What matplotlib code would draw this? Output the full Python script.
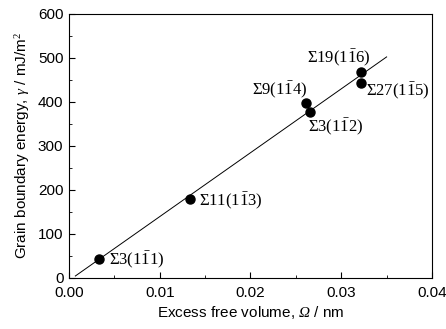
import numpy as np
from matplotlib import pyplot as plt
from matplotlib.ticker import MultipleLocator

plt.rcParams['font.family'] = ['Liberation Sans', 'DejaVu Sans']
plt.rcParams['mathtext.fontset'] = 'custom'
plt.rcParams['mathtext.rm'] = 'Liberation Serif'
plt.rcParams['mathtext.it'] = 'Liberation Serif:italic'
# bf slot used to get an italic capital Omega
plt.rcParams['mathtext.bf'] = 'Liberation Serif:italic'
plt.rcParams['mathtext.sf'] = 'Liberation Sans'

# excess free volume (nm) and grain boundary energy (mJ/m^2)
omega = [0.0033, 0.0133, 0.0261, 0.0266, 0.0322, 0.0322]
gamma = [43, 178, 398, 376, 467, 443]
labels = [r'$\Sigma3(1\bar{1}1)$', r'$\Sigma11(1\bar{1}3)$', r'$\Sigma9(1\bar{1}4)$',
          r'$\Sigma3(1\bar{1}2)$', r'$\Sigma19(1\bar{1}6)$', r'$\Sigma27(1\bar{1}5)$']
offsets = [(7.5, -1), (6.5, -1.5), (1, 8.5), (-1.5, -10.5), (-16, 10), (3.5, -6)]
aligns = ['left', 'left', 'right', 'left', 'center', 'left']

fig = plt.figure(figsize=(4.46, 3.29), dpi=100)
ax = fig.add_axes([0.1547, 0.156, 0.8139, 0.8015])

# linear fit through the points
k, b = np.polyfit(omega, gamma, 1)
xfit = np.array([0.0007, 0.035])
ax.plot(xfit, k * xfit + b, color='black', lw=0.7)

ax.plot(omega, gamma, 'o', color='black', markersize=6.5)

for x, y, lab, off, ha in zip(omega, gamma, labels, offsets, aligns):
    ax.annotate(lab, (x, y), xytext=off, textcoords='offset points',
                ha=ha, va='center', fontsize=12)

ax.set_xlim(0, 0.04)
ax.set_ylim(0, 600)
ax.xaxis.set_major_locator(MultipleLocator(0.01))
ax.xaxis.set_minor_locator(MultipleLocator(0.005))
ax.yaxis.set_major_locator(MultipleLocator(100))
ax.yaxis.set_minor_locator(MultipleLocator(50))
ax.xaxis.set_major_formatter(plt.FormatStrFormatter('%.2f'))
ax.tick_params(which='both', direction='in', labelsize=11)
ax.tick_params(which='major', length=4)
ax.tick_params(which='minor', length=2.5)
ax.tick_params(axis='x', pad=6)
ax.tick_params(axis='y', pad=4)

ax.set_xlabel('Excess free volume, $\\mathbf{Ω}$ / nm', fontsize=11, labelpad=3)
ax.set_ylabel(r'Grain boundary energy, $\gamma$ / mJ/m$^2$', fontsize=11)

plt.savefig('out.png', dpi=100)
